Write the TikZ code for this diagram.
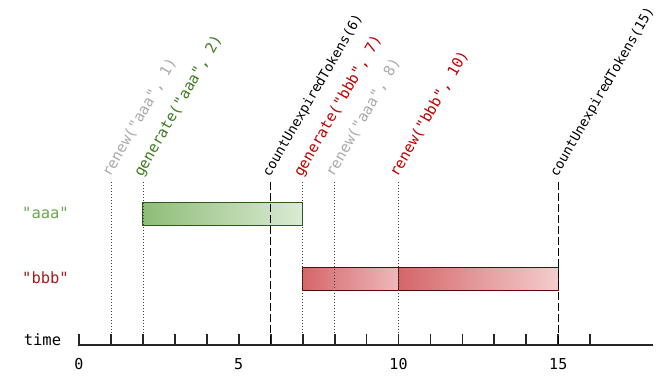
\documentclass[tikz,border=0pt]{standalone}
\usepackage{fontspec}
\setmonofont{DejaVu Sans Mono}
\usetikzlibrary{calc}
\definecolor{evgrey}{HTML}{AAAAAA}
\definecolor{evgreen}{HTML}{3D7A1E}
\definecolor{lblgreen}{HTML}{6AA84F}
\definecolor{evred}{HTML}{C00000}
\definecolor{lblred}{HTML}{A61C1C}
\definecolor{gbarL}{HTML}{8FBC78}
\definecolor{gbarR}{HTML}{DAEBD3}
\definecolor{gbarB}{HTML}{2F5A17}
\definecolor{rbarL}{HTML}{D5666A}
\definecolor{rbarR}{HTML}{F4CDCD}
\definecolor{rbarB}{HTML}{5A0A0A}
\tikzset{
  x=1pt, y=-1pt,
  evlabel/.style={anchor=base west, rotate=60, inner sep=0pt, font=\ttfamily\fontsize{14.8}{16}\selectfont},
  cntlabel/.style={anchor=base west, rotate=60, inner sep=0pt, font=\ttfamily\fontsize{13.4}{15}\selectfont},
  hlabel/.style={inner sep=0pt, font=\ttfamily\fontsize{15.5}{17}\selectfont},
  ticklabel/.style={inner sep=0pt, font=\ttfamily\fontsize{15}{17}\selectfont},
  dotline/.style={dash pattern=on 1pt off 2pt, draw=black!75, line width=0.6pt},
  dashline/.style={dash pattern=on 8pt off 3pt, draw=black, line width=0.9pt},
  axisline/.style={draw=black!85, line width=2pt},
  tickline/.style={draw=black!85, line width=1.8pt},
}
\newcommand{\ux}[1]{79+31.95*#1}
\begin{document}
\begin{tikzpicture}
\useasboundingbox (0,0) rectangle (671,385);
% bars
\shade[left color=gbarL, right color=gbarR] ({\ux{2}},202) rectangle ({\ux{7}},225);
\draw[gbarB, line width=0.9pt] ({\ux{2}},202) rectangle ({\ux{7}},225);
\shade[left color=rbarL, right color=rbarR!80!rbarL] ({\ux{7}},267) rectangle ({\ux{10}},290);
\shade[left color=rbarL, right color=rbarR] ({\ux{10}},267) rectangle ({\ux{15}},290);
\draw[rbarB, line width=0.9pt] ({\ux{7}},267) rectangle ({\ux{15}},290);
\draw[rbarB, line width=0.9pt] ({\ux{10}},267) -- ({\ux{10}},290);
% axis
\coordinate (ax0) at ({\ux{0}},345);
\coordinate (ax1) at (653,345);
\draw[axisline] (ax0) -- (ax1);
\foreach \i in {0,...,16} {
  \draw[tickline] ({\ux{\i}},346) -- ({\ux{\i}},333.5);
}
\foreach \i in {0,5,10,15} {
  \node[ticklabel] (t\i) at ({\ux{\i}},364) {\i};
}
\node[hlabel] (time) at (42.5,340) {time};
\node[hlabel, text=lblgreen] (aaa) at (45.5,213) {"aaa"};
\node[hlabel, text=lblred] (bbb) at (45.5,278) {"bbb"};
% event lines
\foreach \i in {1,2,7,8,10} {
  \draw[dotline] ({\ux{\i}},182) -- ({\ux{\i}},334);
}
\foreach \i in {6,15} {
  \draw[dashline] ({\ux{\i}},182) -- ({\ux{\i}},346);
}
% event labels
\node[evlabel, text=evgrey] (e1) at ({\ux{1}-1},178) {renew("aaa", 1)};
\node[evlabel, text=evgreen] (e2) at ({\ux{2}-1},178) {generate("aaa", 2)};
\node[cntlabel, text=black] (c6) at ({\ux{6}-1},178) {countUnexpiredTokens(6)};
\node[evlabel, text=evred] (e7) at ({\ux{7}-1},178) {generate("bbb", 7)};
\node[evlabel, text=evgrey] (e8) at ({\ux{8}-1},178) {renew("aaa", 8)};
\node[evlabel, text=evred] (e10) at ({\ux{10}-1},178) {renew("bbb", 10)};
\node[cntlabel, text=black] (c15) at ({\ux{15}-1},178) {countUnexpiredTokens(15)};
\end{tikzpicture}
\end{document}
